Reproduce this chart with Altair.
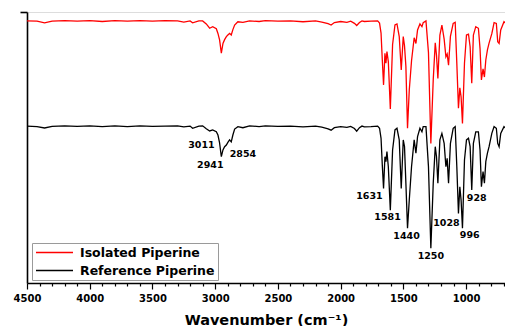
import altair as alt
import pandas as pd

# ---- data ----
wavenumber = [4500, 4420, 4360, 4300, 4200, 4100, 4000, 3900, 3800, 3700, 3600, 3500, 3400, 3300,
              3250, 3200, 3180, 3130, 3100, 3071, 3044, 3020, 2991, 2978, 2965, 2951, 2938, 2925,
              2911, 2899, 2885, 2872, 2859, 2845, 2819, 2779, 2726, 2650, 2600, 2500, 2400, 2300,
              2200, 2150, 2100, 2076, 2050, 2000, 1950, 1920, 1890, 1872, 1850, 1830, 1811, 1758,
              1705, 1690, 1678, 1668, 1658, 1647, 1639, 1631, 1620, 1604, 1586, 1567, 1551, 1533,
              1517, 1501, 1491, 1480, 1467, 1453, 1435, 1414, 1400, 1387, 1368, 1352, 1342, 1320,
              1300, 1281, 1262, 1246, 1236, 1225, 1209, 1193, 1175, 1161, 1151, 1140, 1125, 1103,
              1087, 1074, 1061, 1050, 1040, 1029, 1013, 997, 981, 968, 955, 942, 923, 902, 889,
              878, 865, 854, 843, 830, 817, 795, 777, 759, 748, 737, 724, 698, 671, 658, 644, 634]

reference = [57.9, 57.7, 57.2, 57.8, 58.0, 57.8, 58.0, 57.7, 58.0, 57.7, 58.0, 57.8, 57.9, 58.0,
             57.6, 57.9, 57.1, 57.9, 58.0, 56.9, 56.1, 56.5, 55.8, 54.6, 51.7, 46.6, 49.1, 50.3,
             50.9, 51.9, 52.8, 52.1, 54.6, 56.8, 57.7, 57.3, 58.0, 57.7, 58.0, 57.8, 57.9, 57.6,
             57.9, 57.5, 56.9, 56.4, 57.3, 57.7, 57.4, 57.8, 57.0, 56.0, 57.3, 57.9, 57.6, 57.7,
             57.9, 57.1, 53.4, 43.5, 34.9, 46.6, 44.8, 48.5, 42.9, 26.9, 49.1, 56.5, 57.1, 52.8,
             34.9, 52.8, 50.3, 36.8, 20.2, 30.6, 42.9, 52.8, 47.9, 54.0, 57.1, 55.8, 57.7, 57.7,
             42.9, 12.8, 36.8, 50.3, 46.6, 36.8, 52.8, 55.2, 51.5, 42.9, 46.0, 36.8, 51.5, 57.1,
             57.7, 42.9, 25.7, 35.5, 30.6, 20.2, 45.4, 52.8, 53.4, 50.3, 34.3, 51.5, 55.8, 55.8, 49.1,
             35.5, 41.1, 36.8, 44.8, 47.9, 50.3, 55.2, 57.7, 57.1, 51.5, 50.3, 55.2, 57.7, 56.5, 53.4, 57.1, 58.3]

isolated = [96.7, 96.6, 96.0, 96.6, 96.8, 96.6, 96.8, 96.5, 96.8, 96.6, 96.8, 96.6, 96.8, 96.7,
            96.3, 96.7, 96.0, 96.7, 96.7, 95.6, 94.0, 94.6, 93.8, 92.1, 89.7, 84.8, 88.4, 89.8,
            90.9, 91.5, 92.1, 91.5, 93.5, 95.2, 96.4, 96.2, 96.7, 96.5, 96.8, 96.6, 96.7, 96.4,
            96.7, 96.3, 95.7, 95.2, 96.1, 96.5, 96.2, 96.6, 95.8, 95.0, 96.1, 96.7, 96.5, 96.6,
            96.7, 95.9, 92.2, 82.3, 73.1, 84.8, 81.1, 85.4, 81.7, 64.2, 88.0, 95.2, 95.6, 90.9,
            78.6, 90.9, 87.5, 80.0, 57.1, 71.2, 82.0, 90.5, 88.4, 93.4, 95.6, 94.6, 96.1, 96.7,
            85.0, 51.5, 75.0, 88.6, 84.0, 75.5, 91.5, 95.2, 90.0, 83.5, 84.5, 80.4, 91.0, 95.8,
            96.2, 81.0, 64.5, 72.0, 68.7, 58.9, 81.1, 91.5, 91.8, 87.2, 73.7, 91.5, 94.6, 94.0, 86.5,
            74.9, 79.0, 76.0, 82.3, 86.0, 88.5, 92.0, 96.1, 95.8, 89.0, 88.4, 93.4, 96.4, 95.2, 92.7, 95.8, 96.7]

series_names = ["Isolated Piperine", "Reference Piperine"]
series_colors = ["#ff0000", "#000000"]

peak_labels = ["3011", "2941", "2854", "1631", "1581", "1440", "1250", "1028", "996", "928"]
peak_label_wn = [3110, 3039, 2779, 1771, 1626, 1475, 1281, 1157, 971, 915]
peak_label_val = [50.9, 43.5, 47.5, 32.1, 24.2, 17.3, 10.0, 22.3, 17.7, 31.3]

x_ticks = list(range(700, 4501, 100))

# ---- tables ----
spec_df = pd.concat([
    pd.DataFrame({"wn": wavenumber, "val": isolated, "series": series_names[0]}),
    pd.DataFrame({"wn": wavenumber, "val": reference, "series": series_names[1]}),
])
label_df = pd.DataFrame({"wn": peak_label_wn, "val": peak_label_val, "txt": peak_labels})

FONT = "DejaVu Sans"

x_scale = alt.Scale(domain=[4500, 690], nice=False, zero=False)
y_scale = alt.Scale(domain=[0, 100], nice=False, zero=False)

x_axis = alt.Axis(
    title="Wavenumber (cm⁻¹)",
    values=x_ticks,
    format="d",
    labelExpr="datum.value % 500 === 0 ? datum.label : ''",
    tickSize={"condition": {"test": "datum.value % 500 === 0", "value": 6}, "value": 3},
    tickColor="black",
    tickWidth=1.2,
    domainColor="black",
    domainWidth=1.6,
    labelFont=FONT,
    labelFontWeight="bold",
    labelFontSize=10,
    labelColor="black",
    labelPadding=4,
    labelFlush=False,
    labelOverlap=False,
    grid=False,
    titleFont=FONT,
    titleFontWeight="bold",
    titleFontSize=14.5,
    titleColor="black",
    titlePadding=10,
)
y_axis = alt.Axis(
    title=None,
    values=[100],
    labels=False,
    labelOverlap=False,
    tickSize=7,
    tickColor="black",
    tickWidth=1.6,
    domainColor="black",
    domainWidth=1.6,
    grid=False,
)

lines = alt.Chart(spec_df).mark_line(strokeWidth=1.3, clip=True).encode(
    x=alt.X("wn:Q", scale=x_scale, axis=x_axis),
    y=alt.Y("val:Q", scale=y_scale, axis=y_axis),
    color=alt.Color(
        "series:N",
        scale=alt.Scale(domain=series_names, range=series_colors),
        legend=alt.Legend(
            title=None,
            orient="none",
            legendX=5,
            legendY=231,
            symbolType="M-1,0H1",
            symbolSize=1369,
            symbolStrokeWidth=1.3,
            clipHeight=13,
            rowPadding=5,
            padding=3,
            strokeColor="#9a9a9a",
            fillColor="white",
            labelFont=FONT,
            labelFontWeight="bold",
            labelFontSize=12.5,
            labelColor="black",
            labelOffset=6,
            cornerRadius=0,
        ),
    ),
    detail="series:N",
)

labels = alt.Chart(label_df).mark_text(
    font=FONT, fontWeight="bold", fontSize=9.5, color="black", align="center", baseline="middle"
).encode(
    x=alt.X("wn:Q", scale=x_scale, axis=x_axis),
    y=alt.Y("val:Q", scale=y_scale, axis=y_axis),
    text="txt:N",
)

chart = (
    alt.layer(lines, labels)
    .properties(
        width=478,
        height=271,
        autosize=alt.AutoSizeParams(type="none"),
        padding={"left": 19, "top": 4, "right": 0, "bottom": 43},
    )
    .configure_view(stroke=None)
    .configure(background="white")
)

chart.save("out.html", embed_options={"renderer": "svg", "actions": False})
